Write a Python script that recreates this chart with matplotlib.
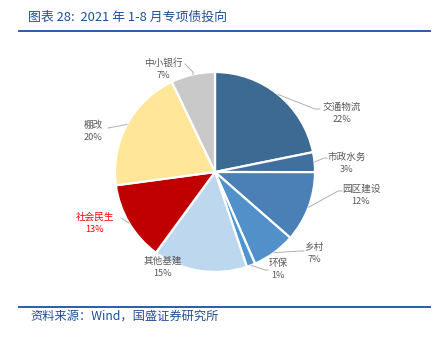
import matplotlib
matplotlib.use("Agg")
import matplotlib.pyplot as plt
import numpy as np

plt.rcParams['font.family'] = ['Noto Sans CJK SC', 'DejaVu Sans']

categories = ['交通物流', '市政水务', '园区建设', '乡村', '环保', '其他基建', '社会民生', '棚改', '中小银行']
values = [21.8, 3.2, 11.4, 7.0, 1.4, 15.2, 12.8, 20.0, 7.1]
pct_labels = ['22%', '3%', '12%', '7%', '1%', '15%', '13%', '20%', '7%']
colors = ['#3D6A93', '#41709F', '#4A80B5', '#5190C8', '#4F95D0', '#BDD7EE', '#C00000', '#FFE699', '#C9C9C9']

W, H = 443, 344
fig = plt.figure(figsize=(W / 100, H / 100), dpi=100)
ax = fig.add_axes([0, 0, 1, 1])

cx, cy, r = 215, H - 172, 100
wedges, _ = ax.pie(values, colors=colors, startangle=90, counterclock=False,
                   center=(cx, cy), radius=r, frame=True,
                   wedgeprops=dict(edgecolor='white', linewidth=1.6))
ax.set_xlim(0, W)
ax.set_ylim(0, H)
ax.set_aspect('equal')
ax.axis('off')

# label layout (image pixel coords): name centre, leader points
name_pos = [(342, 107), (347, 157), (361, 189), (314, 247), (278, 263),
            (163, 261), (95, 217), (93, 125), (163, 63)]
leader = [[(315, 109), (320, 109)], [(324, 158), (327, 158)], [(338, 191), (342, 191)],
          [(300, 251), (304, 251)], [(265, 270), (268, 270)], None,
          [(121, 218)], [(108, 128)], [(193, 72), (185, 64)]]

total = sum(values)
cum = 0
for i, v in enumerate(values):
    mid = 90 - 360 * (cum + v / 2) / total
    cum += v
    sx = cx + r * np.cos(np.radians(mid))
    sy = cy + r * np.sin(np.radians(mid))
    if leader[i] is not None:
        xs = [sx] + [p[0] for p in leader[i]]
        ys = [sy] + [H - p[1] for p in leader[i]]
        ax.plot(xs, ys, color='#B0B0B0', lw=0.7)
    col = '#FF0000' if categories[i] == '社会民生' else '#595959'
    nx, ny = name_pos[i]
    ax.text(nx, H - ny, categories[i], ha='center', va='center', fontsize=6.9, color=col)
    ax.text(nx, H - ny - 13, pct_labels[i], ha='center', va='center', fontsize=6.6, color=col)

title_color = '#1F4E9A'
ax.text(28, H - 17, '图表 28:  2021 年 1-8 月专项债投向', ha='left', va='center',
        fontsize=9.3, color=title_color, style='italic')
ax.plot([19, 430], [H - 31, H - 31], color='#2B5CA8', lw=1.4)
ax.plot([19, 430], [H - 306.5, H - 306.5], color='#2B5CA8', lw=1.4)
ax.text(30, H - 316, '资料来源：Wind，国盛证券研究所', ha='left', va='center',
        fontsize=8.8, color=title_color, style='italic')

fig.savefig('out.png', dpi=100)
